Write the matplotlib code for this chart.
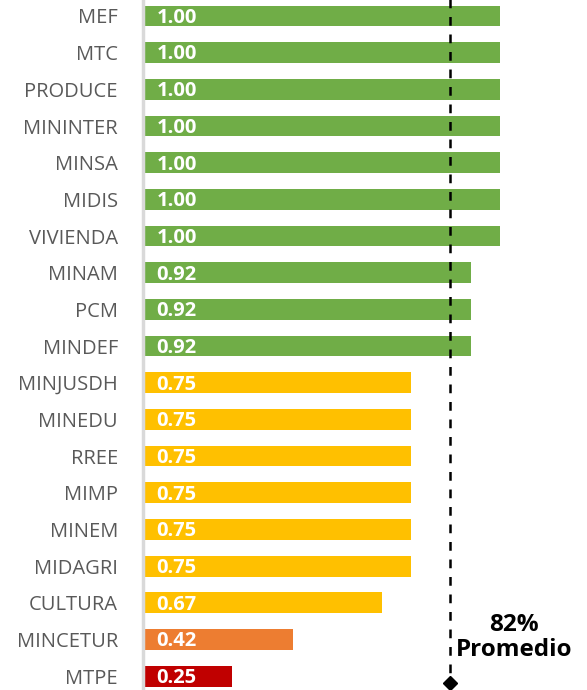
import matplotlib
matplotlib.use('Agg')
import matplotlib.pyplot as plt

categories = ['MEF', 'MTC', 'PRODUCE', 'MININTER', 'MINSA', 'MIDIS', 'VIVIENDA',
              'MINAM', 'PCM', 'MINDEF', 'MINJUSDH', 'MINEDU', 'RREE', 'MIMP',
              'MINEM', 'MIDAGRI', 'CULTURA', 'MINCETUR', 'MTPE']
values = [1.00, 1.00, 1.00, 1.00, 1.00, 1.00, 1.00,
          0.92, 0.92, 0.92, 0.75, 0.75, 0.75, 0.75,
          0.75, 0.75, 0.67, 0.42, 0.25]
avg_line = 0.86
avg_label = '82%\nPromedio'


def bar_color(v):
    if v >= 0.9:
        return '#70AD47'
    if v >= 0.6:
        return '#FFC000'
    if v >= 0.4:
        return '#ED7D31'
    return '#C00000'


plt.rcParams['font.family'] = ['Open Sans', 'DejaVu Sans']

fig = plt.figure(figsize=(5.87, 6.90), dpi=100)
ax = fig.add_axes([143 / 587, 0, 1 - 143 / 587, 1])

y = list(range(len(categories)))
ax.barh(y, values, height=0.57, color=[bar_color(v) for v in values], zorder=2)

for i, v in zip(y, values):
    ax.text(0.038, i + 0.05, f'{v:.2f}', color='white', fontweight='bold',
            fontsize=14.5, va='center', ha='left', zorder=3)

ax.set_xlim(0, 1.244)
ax.set_ylim(18.38, -0.436)

ax.plot([avg_line, avg_line], [-0.5, 18.19], color='black', linestyle=(0, (3.5, 3.5)),
        linewidth=1.8, zorder=4, clip_on=False)
ax.plot([avg_line], [18.19], marker='D', color='black', markersize=7, zorder=5, clip_on=False)
ax.text(1.04, 16.95, avg_label, ha='center', va='center', fontsize=17.5,
        fontweight='bold', color='black', linespacing=1.1)

ax.set_yticks(y)
ax.set_yticklabels(categories, fontsize=14.5, color='#595959')
ax.tick_params(axis='y', length=0, pad=18)
ax.set_xticks([])
for side in ['top', 'right', 'bottom']:
    ax.spines[side].set_visible(False)
ax.spines['left'].set_color('#D9D9D9')
ax.spines['left'].set_linewidth(2.5)

fig.savefig('out.png', dpi=100)
